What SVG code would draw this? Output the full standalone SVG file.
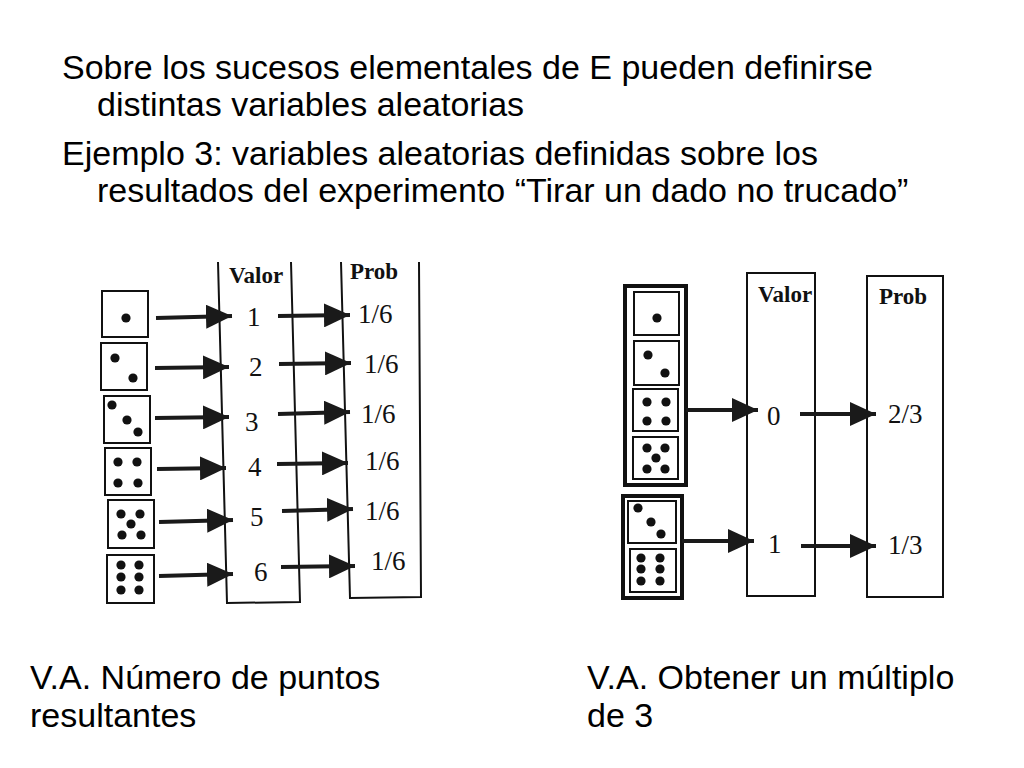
<svg xmlns="http://www.w3.org/2000/svg" width="1024" height="768" viewBox="0 0 1024 768">
<defs>
<marker id="ah" viewBox="0 0 10 10" refX="10" refY="5" markerWidth="26" markerHeight="24" markerUnits="userSpaceOnUse" orient="auto" preserveAspectRatio="none">
<path d="M0,0 L10,5 L0,10 z" fill="#1a1a1a"/>
</marker>
<style>
.t{font-family:"Liberation Sans",Arial,sans-serif;font-size:34px;fill:#000}
.s{font-family:"Liberation Serif","Times New Roman",serif;font-size:27px;fill:#111}
.h{font-family:"Liberation Serif","Times New Roman",serif;font-size:23px;font-weight:bold;fill:#111}
.box{fill:#fff;stroke:#111;stroke-width:2}
.thick{fill:#fff;stroke:#111;stroke-width:4}
.col{fill:none;stroke:#111;stroke-width:2}
.a{stroke:#1a1a1a;stroke-width:4;fill:none}
.d{fill:#111}
circle{r:4.6px}
</style>
</defs>
<rect width="1024" height="768" fill="#fff"/>
<text class="t" x="62" y="79">Sobre los sucesos elementales de E pueden definirse</text>
<text class="t" x="97" y="116">distintas variables aleatorias</text>
<text class="t" x="62" y="165">Ejemplo 3: variables aleatorias definidas sobre los</text>
<text class="t" x="97" y="202">resultados del experimento “Tirar un dado no trucado”</text>
<text class="t" x="30" y="689">V.A. Número de puntos</text>
<text class="t" x="30" y="727">resultantes</text>
<text class="t" x="587" y="689">V.A. Obtener un múltiplo</text>
<text class="t" x="587" y="727">de 3</text>

<g id="left-columns">
<polyline class="col" points="218,262 227,603 300,602 291,262"/>
<polyline class="col" points="341,262 350,598 421,597 419,262"/>
<text class="h" x="229" y="283">Valor</text>
<text class="h" x="350" y="279">Prob</text>
</g>
<g id="left-dice">
<rect class="box" x="102" y="291" width="46" height="46"/><circle class="d" cx="126" cy="318" r="4.6"/>
<rect class="box" x="101" y="343" width="46" height="47"/><circle class="d" cx="115" cy="358" r="4.6"/><circle class="d" cx="133" cy="378" r="4.6"/>
<rect class="box" x="104" y="396" width="46" height="47"/><circle class="d" cx="112" cy="405" r="4.6"/><circle class="d" cx="127" cy="420" r="4.6"/><circle class="d" cx="138" cy="432" r="4.6"/>
<rect class="box" x="105" y="448" width="46" height="47"/><circle class="d" cx="118" cy="462" r="4.6"/><circle class="d" cx="137" cy="462" r="4.6"/><circle class="d" cx="118" cy="483" r="4.6"/><circle class="d" cx="138" cy="483" r="4.6"/>
<rect class="box" x="108" y="500" width="46" height="48"/><circle class="d" cx="121" cy="514" r="4.6"/><circle class="d" cx="140" cy="514" r="4.6"/><circle class="d" cx="131" cy="524" r="4.6"/><circle class="d" cx="122" cy="535" r="4.6"/><circle class="d" cx="141" cy="535" r="4.6"/>
<rect class="box" x="107" y="555" width="47" height="48"/><circle class="d" cx="121" cy="565" r="4.6"/><circle class="d" cx="139" cy="565" r="4.6"/><circle class="d" cx="121" cy="577" r="4.6"/><circle class="d" cx="139" cy="577" r="4.6"/><circle class="d" cx="121" cy="590" r="4.6"/><circle class="d" cx="139" cy="590" r="4.6"/>
</g>
<g id="left-labels">
<text class="s" x="247" y="326">1</text><text class="s" x="249" y="376">2</text><text class="s" x="245" y="431">3</text>
<text class="s" x="248" y="476">4</text><text class="s" x="250" y="526">5</text><text class="s" x="254" y="581">6</text>
<text class="s" x="358" y="323">1/6</text><text class="s" x="364" y="373">1/6</text><text class="s" x="361" y="423">1/6</text>
<text class="s" x="365" y="470">1/6</text><text class="s" x="365" y="520">1/6</text><text class="s" x="371" y="570">1/6</text>
</g>

<g id="right-nodes">
<rect class="thick" x="625" y="286" width="61" height="199"/>
<rect class="box" x="634" y="292" width="45" height="43"/><circle class="d" cx="657" cy="318" r="4.6"/>
<rect class="box" x="634" y="341" width="45" height="44"/><circle class="d" cx="648" cy="355" r="4.6"/><circle class="d" cx="665" cy="373" r="4.6"/>
<rect class="box" x="633" y="389" width="45" height="42"/><circle class="d" cx="647" cy="402" r="4.6"/><circle class="d" cx="666" cy="402" r="4.6"/><circle class="d" cx="647" cy="421" r="4.6"/><circle class="d" cx="666" cy="421" r="4.6"/>
<rect class="box" x="633" y="437" width="45" height="42"/><circle class="d" cx="647" cy="448" r="4.6"/><circle class="d" cx="665" cy="448" r="4.6"/><circle class="d" cx="656" cy="458" r="4.6"/><circle class="d" cx="647" cy="469" r="4.6"/><circle class="d" cx="665" cy="469" r="4.6"/>
<rect class="thick" x="623" y="496" width="59" height="102"/>
<rect class="box" x="628" y="501" width="48" height="42"/><circle class="d" cx="638" cy="508" r="4.6"/><circle class="d" cx="651" cy="522" r="4.6"/><circle class="d" cx="661" cy="534" r="4.6"/>
<rect class="box" x="630" y="549" width="46" height="43"/><circle class="d" cx="641" cy="558" r="4.6"/><circle class="d" cx="660" cy="558" r="4.6"/><circle class="d" cx="641" cy="569" r="4.6"/><circle class="d" cx="660" cy="569" r="4.6"/><circle class="d" cx="641" cy="581" r="4.6"/><circle class="d" cx="660" cy="581" r="4.6"/>
<rect class="box" x="747" y="273" width="68" height="323"/>
<rect class="box" x="867" y="276" width="76" height="321"/>
<text class="h" x="758" y="302">Valor</text>
<text class="h" x="879" y="304">Prob</text>
<text class="s" x="767" y="425">0</text><text class="s" x="768" y="553">1</text>
<text class="s" x="888" y="423">2/3</text><text class="s" x="888" y="554">1/3</text>
</g>

<g id="connectors">
<line class="a" x1="156" y1="318" x2="232" y2="316" marker-end="url(#ah)"/>
<line class="a" x1="155" y1="368" x2="229" y2="367" marker-end="url(#ah)"/>
<line class="a" x1="155" y1="418" x2="229" y2="417" marker-end="url(#ah)"/>
<line class="a" x1="157" y1="469" x2="226" y2="468" marker-end="url(#ah)"/>
<line class="a" x1="159" y1="522" x2="233" y2="520" marker-end="url(#ah)"/>
<line class="a" x1="159" y1="576" x2="233" y2="574" marker-end="url(#ah)"/>
<line class="a" x1="278" y1="316" x2="350" y2="315" marker-end="url(#ah)"/>
<line class="a" x1="279" y1="364" x2="351" y2="363" marker-end="url(#ah)"/>
<line class="a" x1="278" y1="414" x2="350" y2="412" marker-end="url(#ah)"/>
<line class="a" x1="277" y1="464" x2="348" y2="463" marker-end="url(#ah)"/>
<line class="a" x1="282" y1="511" x2="353" y2="509" marker-end="url(#ah)"/>
<line class="a" x1="281" y1="567" x2="355" y2="566" marker-end="url(#ah)"/>
<line class="a" x1="686" y1="410" x2="758" y2="410" marker-end="url(#ah)"/>
<line class="a" x1="682" y1="541" x2="754" y2="541" marker-end="url(#ah)"/>
<line class="a" x1="800" y1="414" x2="876" y2="414" marker-end="url(#ah)"/>
<line class="a" x1="801" y1="546" x2="876" y2="546" marker-end="url(#ah)"/>
</g>
</svg>
